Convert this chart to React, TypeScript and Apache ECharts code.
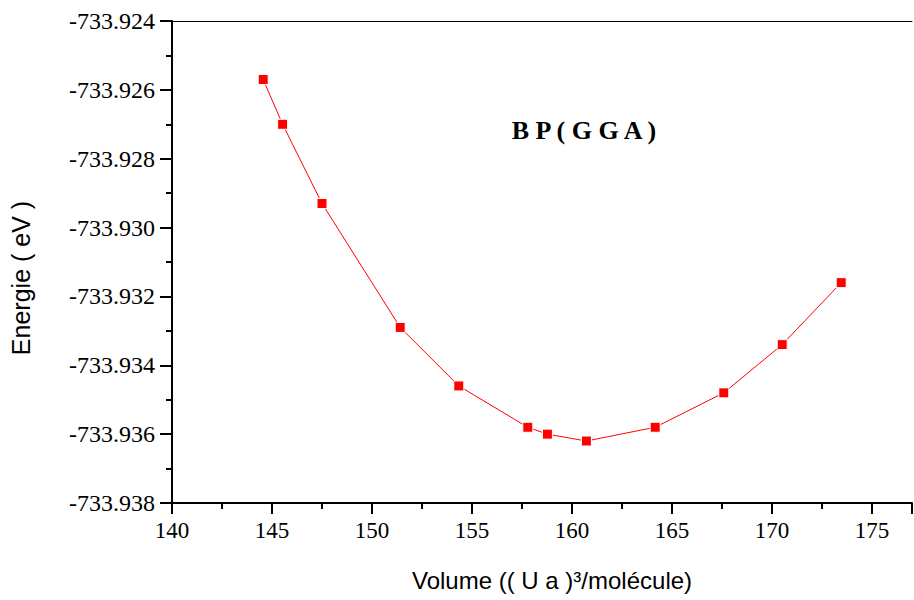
import React, { useEffect, useRef } from "react";
import * as echarts from "echarts";

const volumes = [144.56, 145.53, 147.5, 151.41, 154.34, 157.79, 158.77, 160.72, 164.16, 167.59, 170.51, 173.46];
const energies = [-733.9257, -733.927, -733.9293, -733.9329, -733.9346, -733.9358, -733.936, -733.9362, -733.9358, -733.9348, -733.9334, -733.9316];
const chartTitle = "B P ( G G A )";
const xTitle = "Volume (( U a )³/molécule)";
const yTitle = "Energie ( eV )";

export default function App() {
  const ref = useRef<HTMLDivElement>(null);
  useEffect(() => {
    if (!ref.current) return;
    const chart = echarts.init(ref.current, null, { renderer: "svg" });
    const data = volumes.map((v, i) => [v, energies[i]]);
    const serif = "Liberation Serif";
    const sans = "Liberation Sans";
    chart.setOption({
      animation: false,
      backgroundColor: "#ffffff",
      textStyle: { fontFamily: serif },
      grid: { left: 172, right: 2, top: 21, bottom: 97, containLabel: false },
      xAxis: [
        {
          type: "value",
          min: 140,
          max: 177,
          interval: 5,
          axisLine: { show: true, onZero: false, lineStyle: { color: "#000", width: 2 } },
          axisTick: { show: true, inside: false, length: 11, lineStyle: { color: "#000", width: 2 } },
          minorTick: { show: true, splitNumber: 2, length: 6, lineStyle: { color: "#000", width: 2 } },
          splitLine: { show: false },
          axisLabel: {
            margin: 16,
            color: "#000",
            fontFamily: serif,
            fontSize: 23,
            showMaxLabel: false,
            formatter: (v: number) => String(Math.round(v)),
          },
        },
        {
          type: "value",
          position: "top",
          min: 140,
          max: 177,
          axisLine: { show: true, onZero: false, lineStyle: { color: "#000", width: 1 } },
          axisTick: { show: false },
          axisLabel: { show: false },
          splitLine: { show: false },
        },
      ],
      yAxis: {
        type: "value",
        min: -733.938,
        max: -733.924,
        interval: 0.002,
        axisLine: { show: true, onZero: false, lineStyle: { color: "#000", width: 2 } },
        axisTick: { show: true, inside: false, length: 12, lineStyle: { color: "#000", width: 2 } },
        minorTick: { show: true, splitNumber: 2, length: 6, lineStyle: { color: "#000", width: 2 } },
        splitLine: { show: false },
        axisLabel: {
          margin: 17,
          color: "#000",
          fontFamily: serif,
          fontSize: 24,
          formatter: (v: number) => v.toFixed(3),
        },
      },
      graphic: [
        {
          type: "text",
          x: 584,
          y: 130,
          style: {
            text: chartTitle,
            fontFamily: serif,
            fontWeight: "bold",
            fontSize: 26,
            fill: "#000",
            align: "center",
            verticalAlign: "middle",
          },
        },
        {
          type: "text",
          x: 552,
          y: 580,
          style: {
            text: xTitle,
            fontFamily: sans,
            fontSize: 24,
            fill: "#000",
            align: "center",
            verticalAlign: "middle",
          },
        },
        {
          type: "text",
          x: 21,
          y: 278,
          rotation: Math.PI / 2,
          style: {
            text: yTitle,
            fontFamily: sans,
            fontSize: 25,
            fill: "#000",
            align: "center",
            verticalAlign: "middle",
          },
        },
      ],
      series: [
        {
          type: "line",
          data,
          symbol: "rect",
          symbolSize: 10,
          lineStyle: { color: "#ff0000", width: 1 },
          itemStyle: { color: "#ff0000", borderColor: "#ffffff", borderWidth: 1 },
          emphasis: { disabled: true },
        },
      ],
    });
    return () => chart.dispose();
  }, []);
  return <div ref={ref} style={{ position: "absolute", left: 0, top: 0, width: 914, height: 600 }} />;
}
